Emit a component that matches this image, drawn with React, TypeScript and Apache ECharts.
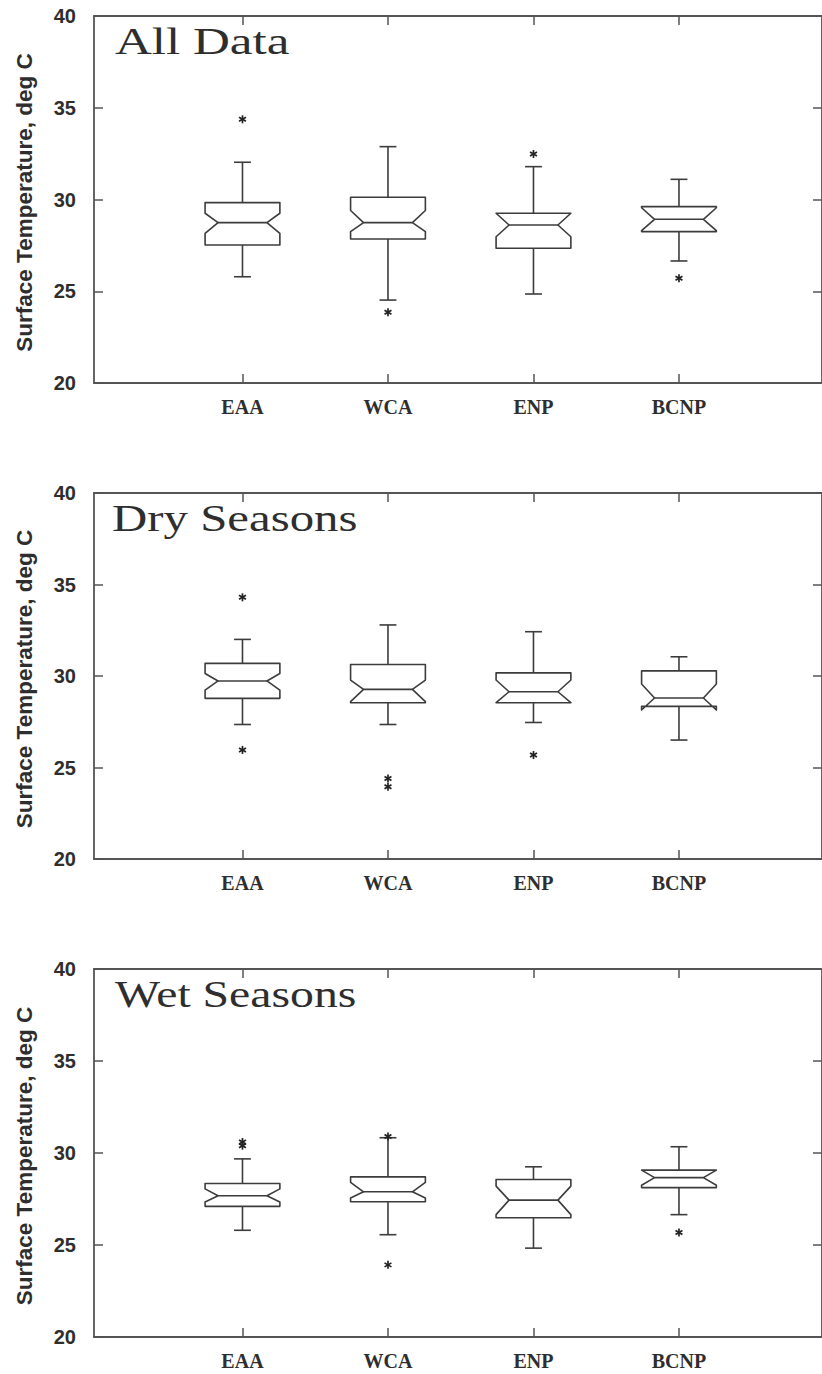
import React, { useEffect, useRef } from "react";
import * as echarts from "echarts";

// ---------- data ----------
const categories = ["EAA", "WCA", "ENP", "BCNP"];
const categoryPositions = [1, 2, 3, 4];
const yTicks = [20, 25, 30, 35, 40];
const panelTitles = ["All Data", "Dry Seasons", "Wet Seasons"];
const yAxisTitle = "Surface Temperature, deg C";

// All Data
const allMin = [25.79, 24.52, 24.85, 26.65];
const allQ1 = [27.52, 27.85, 27.34, 28.25];
const allNotchLo = [28.16, 28.25, 27.97, 28.3];
const allMedian = [28.74, 28.74, 28.61, 28.92];
const allNotchHi = [29.25, 29.4, 29.25, 29.55];
const allQ3 = [29.83, 30.12, 29.25, 29.61];
const allMax = [32.03, 32.88, 31.79, 31.1];
const allOutliers = [[34.37], [23.85], [32.48], [25.71]];

// Dry Seasons
const dryMin = [27.35, 27.35, 27.46, 26.5];
const dryQ1 = [28.78, 28.54, 28.54, 28.34];
const dryNotchLo = [29.23, 28.6, 28.54, 28.14];
const dryMedian = [29.73, 29.27, 29.14, 28.8];
const dryNotchHi = [30.14, 29.78, 29.78, 29.56];
const dryQ3 = [30.69, 30.63, 30.17, 30.28];
const dryMax = [32.0, 32.79, 32.42, 31.05];
const dryOutliers = [[34.3, 25.96], [24.4, 23.95], [25.68], []];

// Wet Seasons
const wetMin = [25.8, 25.56, 24.83, 26.65];
const wetQ1 = [27.1, 27.35, 26.48, 28.12];
const wetNotchLo = [27.34, 27.55, 26.65, 28.25];
const wetMedian = [27.68, 27.89, 27.44, 28.66];
const wetNotchHi = [28.05, 28.4, 28.2, 29.07];
const wetQ3 = [28.34, 28.7, 28.56, 29.07];
const wetMax = [29.68, 30.83, 29.25, 30.34];
const wetOutliers = [[30.4, 30.6], [30.9, 23.92], [], [25.68]];

const panels = [
  { min: allMin, q1: allQ1, nlo: allNotchLo, med: allMedian, nhi: allNotchHi, q3: allQ3, max: allMax, out: allOutliers },
  { min: dryMin, q1: dryQ1, nlo: dryNotchLo, med: dryMedian, nhi: dryNotchHi, q3: dryQ3, max: dryMax, out: dryOutliers },
  { min: wetMin, q1: wetQ1, nlo: wetNotchLo, med: wetMedian, nhi: wetNotchHi, q3: wetQ3, max: wetMax, out: wetOutliers },
];

// ---------- layout / style ----------
const W = 822;
const H = 1374;
const GRID_LEFT = 94;
const GRID_WIDTH = 732;
const X_MIN = -0.0205;
const X_MAX = 4.983;
const GRID_TOPS = [16, 493, 969];
const GRID_HEIGHTS = [367, 366, 368];
const TITLE_SCALE = [1.38, 1.32, 1.29];
const TITLE_LEFT = [115, 112, 115];
const LINE = "#3c3c3c";
const AXIS = "#555";
const TEXT = "#2e2e2e";

const BOX_HALF = 0.257;
const NOTCH_INSET = 0.089;
const CAP_HALF = 0.058;

function boxRenderItem(params: any, api: any) {
  const x = api.value(0);
  const mn = api.value(1), q1 = api.value(2), nlo = api.value(3), med = api.value(4);
  const nhi = api.value(5), q3 = api.value(6), mx = api.value(7);
  const unit = api.size([1, 0])[0];
  const hw = unit * BOX_HALF;
  const ins = unit * NOTCH_INSET;
  const cap = unit * CAP_HALF;
  const px = api.coord([x, med])[0];
  const y = (v: number) => api.coord([x, v])[1];
  const ls = { stroke: LINE, lineWidth: 1.6, fill: null };
  const pts = [
    [px - hw, y(q1)], [px - hw, y(nlo)], [px - hw + ins, y(med)], [px - hw, y(nhi)], [px - hw, y(q3)],
    [px + hw, y(q3)], [px + hw, y(nhi)], [px + hw - ins, y(med)], [px + hw, y(nlo)], [px + hw, y(q1)],
  ];
  return {
    type: "group",
    children: [
      { type: "line", shape: { x1: px, y1: y(mx), x2: px, y2: y(q3) }, style: ls },
      { type: "line", shape: { x1: px, y1: y(q1), x2: px, y2: y(mn) }, style: ls },
      { type: "line", shape: { x1: px - cap, y1: y(mx), x2: px + cap, y2: y(mx) }, style: ls },
      { type: "line", shape: { x1: px - cap, y1: y(mn), x2: px + cap, y2: y(mn) }, style: ls },
      { type: "polygon", shape: { points: pts }, style: { stroke: LINE, lineWidth: 1.6, fill: "#fff", lineJoin: "round" } },
      { type: "line", shape: { x1: px - hw + ins, y1: y(med), x2: px + hw - ins, y2: y(med) }, style: ls },
    ],
  };
}

function starRenderItem(params: any, api: any) {
  const p = api.coord([api.value(0), api.value(1)]);
  const r = 4;
  const st = { stroke: "#222", lineWidth: 1.7 };
  const children: any[] = [];
  for (let k = 0; k < 3; k++) {
    const a = Math.PI / 2 + (k * Math.PI) / 3;
    children.push({
      type: "line",
      shape: { x1: p[0] - r * Math.cos(a), y1: p[1] - r * Math.sin(a), x2: p[0] + r * Math.cos(a), y2: p[1] + r * Math.sin(a) },
      style: st,
    });
  }
  return { type: "group", children };
}

function buildOption() {
  const grid: any[] = [];
  const xAxis: any[] = [];
  const yAxis: any[] = [];
  const series: any[] = [];
  const graphic: any[] = [];

  panels.forEach((p, i) => {
    grid.push({ left: GRID_LEFT, width: GRID_WIDTH, top: GRID_TOPS[i], height: GRID_HEIGHTS[i] });
    const axisLine = { show: true, onZero: false, lineStyle: { color: AXIS, width: 1.8 } };
    const xTick = { show: true, inside: true, length: 9, customValues: categoryPositions, lineStyle: { color: AXIS, width: 1.5 } };
    const yTick = { show: true, inside: true, length: 9, lineStyle: { color: AXIS, width: 1.5 } };
    xAxis.push({
      type: "value", gridIndex: i, position: "bottom", min: X_MIN, max: X_MAX,
      axisLine, axisTick: xTick, splitLine: { show: false },
      axisLabel: {
        margin: 14,
        customValues: categoryPositions,
        formatter: (v: number) => categories[Math.round(v) - 1] ?? "",
        fontFamily: "Liberation Serif", fontWeight: "bold", fontSize: 20, color: TEXT,
      },
    });
    xAxis.push({
      type: "value", gridIndex: i, position: "top", min: X_MIN, max: X_MAX,
      axisLine, axisTick: xTick, splitLine: { show: false }, axisLabel: { show: false },
    });
    yAxis.push({
      type: "value", gridIndex: i, position: "left", min: yTicks[0], max: yTicks[yTicks.length - 1], interval: 5,
      axisLine, axisTick: yTick, splitLine: { show: false },
      axisLabel: { margin: 18, fontFamily: "Liberation Sans", fontWeight: "bold", fontSize: 20, color: TEXT },
    });
    yAxis.push({
      type: "value", gridIndex: i, position: "right", min: yTicks[0], max: yTicks[yTicks.length - 1], interval: 5,
      axisLine, axisTick: yTick, splitLine: { show: false }, axisLabel: { show: false },
    });

    series.push({
      type: "custom", xAxisIndex: i * 2, yAxisIndex: i * 2, renderItem: boxRenderItem,
      encode: { x: 0, y: [1, 2, 3, 4, 5, 6, 7] },
      data: categories.map((_, k) => [categoryPositions[k], p.min[k], p.q1[k], p.nlo[k], p.med[k], p.nhi[k], p.q3[k], p.max[k]]),
      silent: true, z: 3,
    });
    const outData: number[][] = [];
    p.out.forEach((vals, k) => vals.forEach((v) => outData.push([categoryPositions[k], v])));
    series.push({
      type: "custom", xAxisIndex: i * 2, yAxisIndex: i * 2, renderItem: starRenderItem,
      encode: { x: 0, y: 1 }, data: outData, silent: true, z: 4,
    });

    graphic.push({
      type: "text", x: TITLE_LEFT[i], y: GRID_TOPS[i] + 25.5, scaleX: TITLE_SCALE[i], scaleY: 1,
      style: {
        text: panelTitles[i], font: "37px 'Liberation Serif'", fill: TEXT,
        textAlign: "left", textVerticalAlign: "middle",
      },
      z: 10,
    });
    graphic.push({
      type: "text", x: 24.5, y: GRID_TOPS[i] + GRID_HEIGHTS[i] / 2 + 3, rotation: Math.PI / 2,
      style: {
        text: yAxisTitle, font: "bold 22.5px 'Liberation Sans'", fill: TEXT,
        textAlign: "center", textVerticalAlign: "middle",
      },
      z: 10,
    });
  });

  return { animation: false, backgroundColor: "#fff", grid, xAxis, yAxis, series, graphic };
}

export default function App() {
  const ref = useRef<HTMLDivElement>(null);
  useEffect(() => {
    if (!ref.current) return;
    const chart = echarts.init(ref.current, null, { renderer: "svg" });
    chart.setOption(buildOption() as any);
    return () => chart.dispose();
  }, []);
  return (
    <div
      ref={ref}
      style={{ position: "absolute", left: 0, top: 0, width: W, height: H, background: "#fff" }}
    />
  );
}
